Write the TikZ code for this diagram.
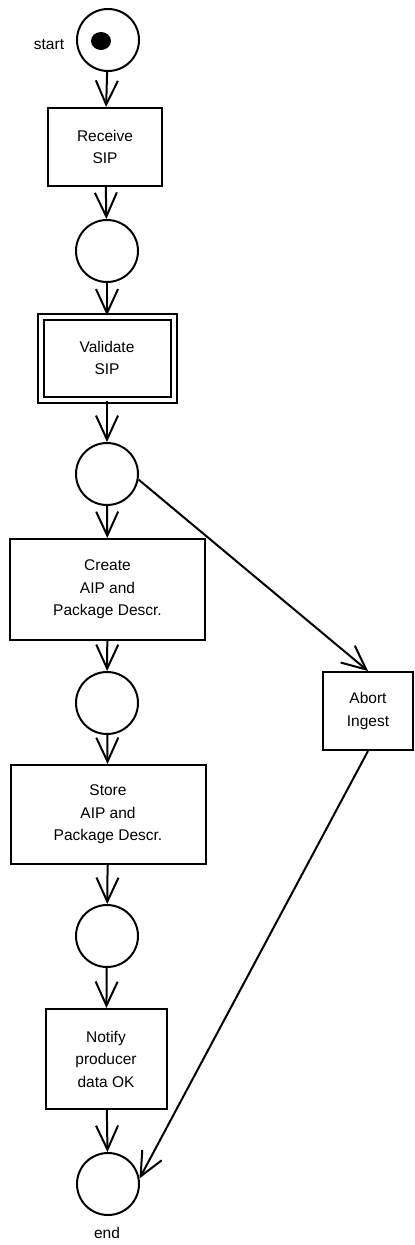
\documentclass[tikz,border=0pt]{standalone}
\usepackage{fontspec}
\setmainfont{Liberation Sans}
\usetikzlibrary{arrows.meta}

\tikzset{
	placec/.style={draw, circle, line width=2pt, minimum size=62pt, inner sep=0pt},
	transbox/.style={draw, rectangle, line width=2pt, align=center, inner sep=0pt},
	flow/.style={draw, line width=2pt, -{Straight Barb[length=24pt,width=22pt]}}
}

\begin{document}
\begin{tikzpicture}[x=1pt, y=-1pt, font=\fontsize{15.5}{22.5}\selectfont]
					\useasboundingbox (0,0) rectangle (415,1245);
					\node[placec] (start) at (108,40) {};
					\fill (101,41) ellipse (10 and 9);
					\node (startlbl) at (49,45) {start};
					\node[transbox, minimum width=114pt, minimum height=78pt] (receive) at (105,147) {Receive\\SIP};
					\node[placec] (p1) at (107,251) {};
					\node[transbox, double, double distance=4pt, minimum width=133pt, minimum height=83pt] (validate) at (107,358) {Validate\\SIP};
					\node[placec] (p2) at (107,474) {};
					\node[transbox, minimum width=195pt, minimum height=101pt] (create) at (107.5,589.5) {Create\\AIP and\\Package Descr.};
					\node[placec] (p3) at (107,703) {};
					\node[transbox, minimum width=195pt, minimum height=99pt] (store) at (108,814.5) {Store\\AIP and\\Package Descr.};
					\node[placec] (p4) at (107,936) {};
					\node[transbox, minimum width=121pt, minimum height=100pt] (notify) at (106,1059) {Notify\\producer\\data OK};
					\node[placec] (endc) at (108,1184) {};
					\node (endlbl) at (107,1233) {end};
					\node[transbox, minimum width=90pt, minimum height=78pt] (abort) at (368,711) {Abort\\Ingest};
					
					\draw[flow] (start) -- (receive);
					\draw[flow] (receive) -- (p1);
					\draw[flow] (p1) -- (validate);
					\draw[flow] (validate) -- (p2);
					\draw[flow] (p2) -- (create);
					\draw[flow] (create) -- (p3);
					\draw[flow] (p3) -- (store);
					\draw[flow] (store) -- (p4);
					\draw[flow] (p4) -- (notify);
					\draw[flow] (notify) -- (endc);
					\draw[flow] (p2.-10) -- (abort.north);
					\draw[flow] (abort.south) -- (endc.10);
\end{tikzpicture}
\end{document}
